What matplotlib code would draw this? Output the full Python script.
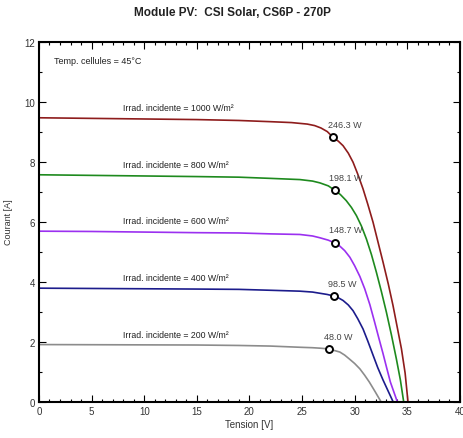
import matplotlib
matplotlib.use("Agg")
import matplotlib.pyplot as plt
from matplotlib.ticker import MultipleLocator

plt.rcParams['font.family'] = ['Liberation Sans Narrow', 'Liberation Sans', 'DejaVu Sans']

# I-V curves of the module at 45 °C for five irradiance levels
irradiances = [1000, 800, 600, 400, 200]
colors = ['#8e1c1c', '#1e8a1e', '#9b30f0', '#1c1c8c', '#8c8c8c']

v_1000 = [0, 5, 10, 15, 19, 22, 24, 25.5, 26.2, 26.8, 27.4, 27.95, 28.45, 28.9, 29.4,
          29.85, 30.3, 30.8, 31.25, 31.75, 32.2, 32.7, 33.2, 33.65, 34.05, 34.45, 34.8, 35.07]
i_1000 = [9.46, 9.44, 9.42, 9.40, 9.37, 9.33, 9.30, 9.25, 9.20, 9.12, 9.00, 8.81, 8.68, 8.53, 8.28,
          7.98, 7.58, 7.09, 6.58, 5.98, 5.35, 4.65, 3.92, 3.20, 2.48, 1.76, 0.95, 0.0]

v_800 = [0, 5, 10, 15, 19, 22, 24.8, 26.0, 26.7, 27.5, 28.1, 28.65, 29.2, 29.7, 30.17, 30.65,
         31.12, 31.6, 32.07, 32.55, 33.02, 33.5, 33.97, 34.35, 34.66]
i_800 = [7.56, 7.54, 7.52, 7.50, 7.48, 7.44, 7.40, 7.35, 7.29, 7.19, 7.05, 6.90, 6.70, 6.47, 6.20, 5.85,
         5.42, 4.90, 4.31, 3.66, 2.98, 2.22, 1.42, 0.72, 0.0]

v_600 = [0, 5, 10, 15, 19, 22, 24.8, 26.0, 26.7, 27.5, 28.1, 28.6, 29.06, 29.55, 30.0, 30.5,
         30.96, 31.45, 31.9, 32.3, 32.7, 33.05, 33.4, 33.75, 34.05]
i_600 = [5.68, 5.67, 5.65, 5.63, 5.62, 5.59, 5.57, 5.52, 5.46, 5.38, 5.29, 5.18, 5.03, 4.81, 4.53, 4.17,
         3.76, 3.23, 2.65, 2.12, 1.60, 1.12, 0.65, 0.30, 0.0]

v_400 = [0, 5, 10, 15, 19, 22, 24.8, 26.0, 26.7, 27.4, 28.0, 28.45, 28.9, 29.4, 29.85, 30.3,
         30.8, 31.25, 31.75, 32.2, 32.7, 33.2, 33.65]
i_400 = [3.78, 3.77, 3.76, 3.75, 3.74, 3.71, 3.68, 3.65, 3.61, 3.57, 3.52, 3.46, 3.37, 3.22, 3.03, 2.76,
         2.42, 2.02, 1.55, 1.13, 0.72, 0.34, 0.0]

v_200 = [0, 5, 10, 15, 19, 22, 24.8, 26.0, 26.7, 27.2, 27.6, 28.1, 28.6, 29.05, 29.5, 30.0,
         30.5, 30.95, 31.4, 31.95, 32.5]
i_200 = [1.90, 1.895, 1.89, 1.885, 1.87, 1.85, 1.81, 1.795, 1.78, 1.765, 1.74, 1.70, 1.65, 1.55, 1.42, 1.27,
         1.09, 0.88, 0.65, 0.33, 0.0]

voltages = [v_1000, v_800, v_600, v_400, v_200]
currents = [i_1000, i_800, i_600, i_400, i_200]

# Maximum power points
p_mpp = [246.3, 198.1, 148.7, 98.5, 48.0]
v_mpp = [27.95, 28.1, 28.1, 28.0, 27.6]

fig = plt.figure(figsize=(4.64, 4.39), dpi=100)
ax = fig.add_axes([0.084, 0.083, 0.907, 0.820])

for g, c, v, i, p, vm in zip(irradiances, colors, voltages, currents, p_mpp, v_mpp):
    ax.plot(v, i, color=c, lw=1.2, zorder=2, solid_joinstyle='round')
    im = p / vm
    ax.plot([vm], [im], 'o', ms=5, mfc='white', mec='black', mew=1.4, zorder=3)
    ax.text(vm - 0.5, im + 0.28, f"{p:.1f} W", fontsize=6.5, color='#444444',
            ha='left', va='bottom')
    ax.text(8.0, i[0] + 0.2, f"Irrad. incidente = {g} W/m²", fontsize=6.3,
            color='#222222', ha='left', va='bottom')

ax.text(1.4, 11.37, "Temp. cellules = 45°C", fontsize=6.5, color='#222222',
        ha='left', va='center')

ax.set_xlim(0, 40)
ax.set_ylim(0, 12)
ax.xaxis.set_major_locator(MultipleLocator(5))
ax.xaxis.set_minor_locator(MultipleLocator(1))
ax.yaxis.set_major_locator(MultipleLocator(2))
ax.yaxis.set_minor_locator(MultipleLocator(1))
ax.tick_params(which='both', direction='in', top=True, right=True,
               labelsize=7, labelcolor='#333333', width=0.8, pad=3)
ax.tick_params(which='major', length=5)
ax.tick_params(which='minor', length=2.5)
for s in ax.spines.values():
    s.set_linewidth(1.5)

ax.set_xlabel("Tension [V]", fontsize=7, color='#333333', labelpad=2)
ax.set_ylabel("Courant [A]", fontsize=6.5, color='#333333', labelpad=8)

fig.suptitle("Module PV:  CSI Solar, CS6P - 270P", fontsize=8.5, fontweight='bold',
             color='#222222', y=0.985)

fig.savefig("out.png", dpi=100, facecolor='white')
